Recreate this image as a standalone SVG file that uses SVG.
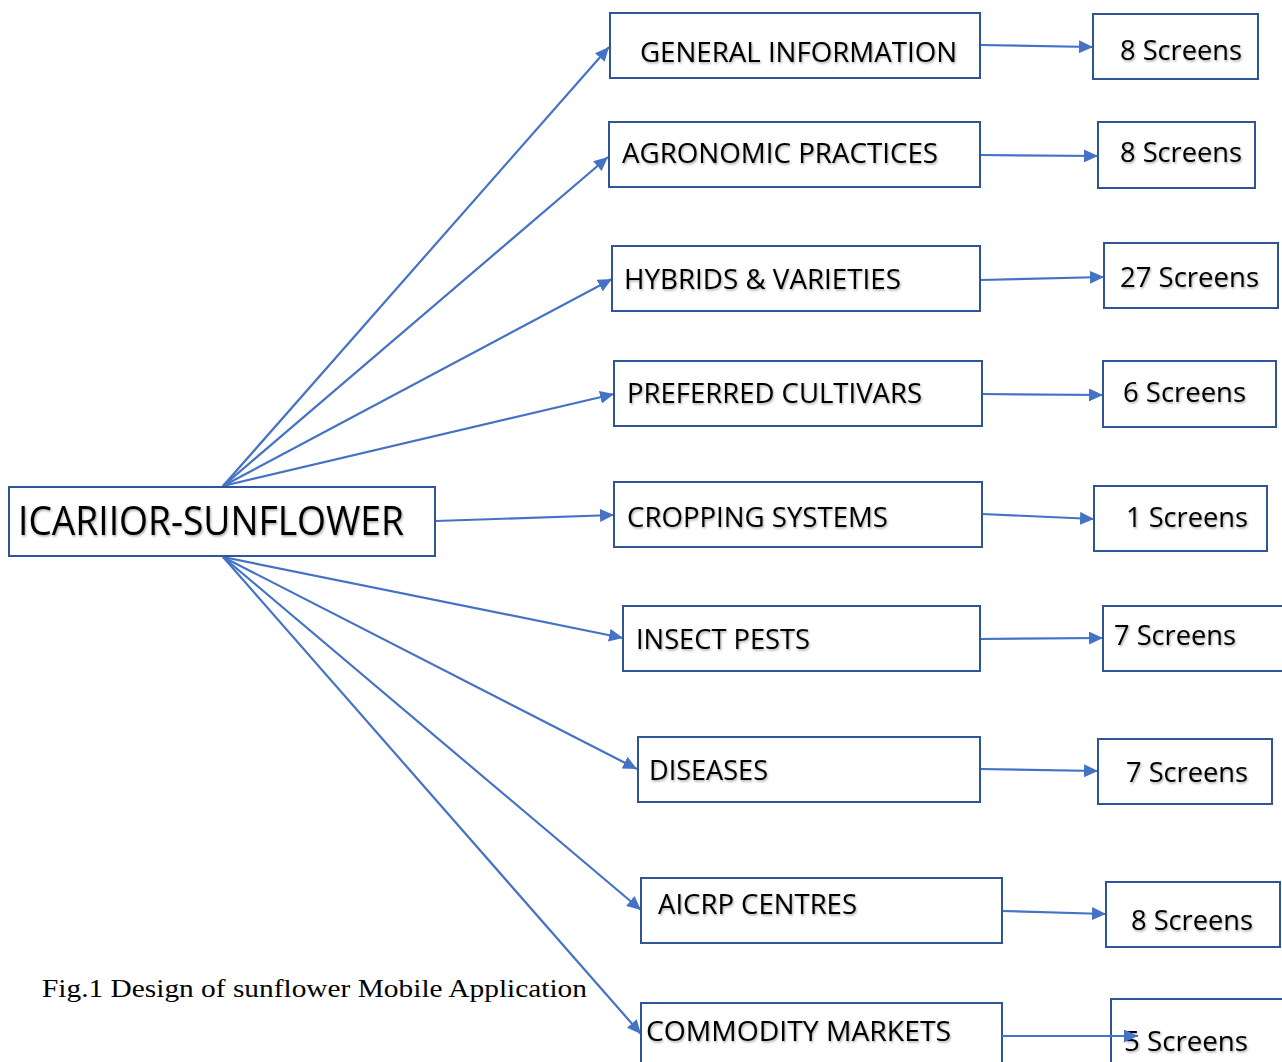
<svg xmlns="http://www.w3.org/2000/svg" width="1282" height="1062" viewBox="0 0 1282 1062">
<defs>
<style>
.box{fill:#fff;stroke:#2F5597;stroke-width:2}
.t{font-family:"Open Sans","Liberation Sans",sans-serif;font-size:28px;fill:#000;filter:url(#sh)}
.big{font-size:41px}
.c{stroke:#4472C4;stroke-width:2.2;fill:none;marker-end:url(#ah)}
.cap{font-family:"Liberation Serif","Times New Roman",serif;font-size:26px;fill:#000}
</style>
<marker id="ah" viewBox="0 0 14 13" refX="14" refY="6.5" markerWidth="14" markerHeight="13" markerUnits="userSpaceOnUse" orient="auto">
<path d="M0,0L14,6.5L0,13Z" fill="#4472C4"/>
</marker>
<filter id="sh" x="-5%" y="-20%" width="110%" height="140%">
<feDropShadow dx="1" dy="1.5" stdDeviation="0.8" flood-color="#000" flood-opacity="0.35"/>
</filter>
</defs>
<rect width="1282" height="1062" fill="#fff"/>
<g id="connectors">
<line class="c" x1="223" y1="486" x2="609" y2="47"/>
<line class="c" x1="223" y1="486" x2="608" y2="157"/>
<line class="c" x1="223" y1="486" x2="612" y2="279"/>
<line class="c" x1="223" y1="486" x2="614" y2="394"/>
<line class="c" x1="436" y1="521" x2="614" y2="515"/>
<line class="c" x1="223" y1="557" x2="623" y2="638"/>
<line class="c" x1="223" y1="557" x2="637" y2="769"/>
<line class="c" x1="223" y1="557" x2="641" y2="910"/>
<line class="c" x1="223" y1="557" x2="641" y2="1034"/>
<line class="c" x1="980" y1="45" x2="1093" y2="47"/>
<line class="c" x1="980" y1="155" x2="1098" y2="156"/>
<line class="c" x1="980" y1="280" x2="1104" y2="277"/>
<line class="c" x1="982" y1="394" x2="1103" y2="395"/>
<line class="c" x1="982" y1="514" x2="1094" y2="519"/>
<line class="c" x1="980" y1="639" x2="1103" y2="638"/>
<line class="c" x1="980" y1="769" x2="1098" y2="771"/>
<line class="c" x1="1002" y1="911" x2="1106" y2="914"/>
</g>
<g id="main"><rect class="box" x="9" y="487" width="426" height="69"/><text class="t big" x="18" y="535" textLength="386" lengthAdjust="spacingAndGlyphs">ICARIIOR-SUNFLOWER</text></g>
<g id="n1"><rect class="box" x="610" y="13" width="370" height="65"/><text class="t" x="640" y="62" textLength="317" lengthAdjust="spacingAndGlyphs">GENERAL INFORMATION</text></g>
<g id="n2"><rect class="box" x="609" y="122" width="371" height="65"/><text class="t" x="622" y="163" textLength="316" lengthAdjust="spacingAndGlyphs">AGRONOMIC PRACTICES</text></g>
<g id="n3"><rect class="box" x="612" y="246" width="368" height="65"/><text class="t" x="624" y="289" textLength="277" lengthAdjust="spacingAndGlyphs">HYBRIDS &amp; VARIETIES</text></g>
<g id="n4"><rect class="box" x="614" y="361" width="368" height="65"/><text class="t" x="627" y="403" textLength="295" lengthAdjust="spacingAndGlyphs">PREFERRED CULTIVARS</text></g>
<g id="n5"><rect class="box" x="614" y="482" width="368" height="65"/><text class="t" x="627" y="527" textLength="261" lengthAdjust="spacingAndGlyphs">CROPPING SYSTEMS</text></g>
<g id="n6"><rect class="box" x="623" y="606" width="357" height="65"/><text class="t" x="636" y="649" textLength="174" lengthAdjust="spacingAndGlyphs">INSECT PESTS</text></g>
<g id="n7"><rect class="box" x="638" y="737" width="342" height="65"/><text class="t" x="649" y="780" textLength="119" lengthAdjust="spacingAndGlyphs">DISEASES</text></g>
<g id="n8"><rect class="box" x="641" y="878" width="361" height="65"/><text class="t" x="658" y="914" textLength="199" lengthAdjust="spacingAndGlyphs">AICRP CENTRES</text></g>
<g id="n9"><rect class="box" x="641" y="1003" width="361" height="70"/><text class="t" x="646" y="1041" textLength="305" lengthAdjust="spacingAndGlyphs">COMMODITY MARKETS</text></g>
<g id="s1"><rect class="box" x="1093" y="14" width="165" height="65"/><text class="t" x="1120" y="60" textLength="122" lengthAdjust="spacingAndGlyphs">8 Screens</text></g>
<g id="s2"><rect class="box" x="1098" y="122" width="157" height="66"/><text class="t" x="1120" y="162" textLength="122" lengthAdjust="spacingAndGlyphs">8 Screens</text></g>
<g id="s3"><rect class="box" x="1104" y="243" width="174" height="65"/><text class="t" x="1120" y="287" textLength="139" lengthAdjust="spacingAndGlyphs">27 Screens</text></g>
<g id="s4"><rect class="box" x="1103" y="361" width="173" height="66"/><text class="t" x="1123" y="402" textLength="123" lengthAdjust="spacingAndGlyphs">6 Screens</text></g>
<g id="s5"><rect class="box" x="1094" y="486" width="173" height="65"/><text class="t" x="1126" y="527" textLength="122" lengthAdjust="spacingAndGlyphs">1 Screens</text></g>
<g id="s6"><rect class="box" x="1103" y="606" width="185" height="65"/><text class="t" x="1114" y="645" textLength="122" lengthAdjust="spacingAndGlyphs">7 Screens</text></g>
<g id="s7"><rect class="box" x="1098" y="739" width="174" height="65"/><text class="t" x="1126" y="782" textLength="122" lengthAdjust="spacingAndGlyphs">7 Screens</text></g>
<g id="s8"><rect class="box" x="1106" y="882" width="174" height="65"/><text class="t" x="1131" y="930" textLength="122" lengthAdjust="spacingAndGlyphs">8 Screens</text></g>
<g id="s9"><rect class="box" x="1111" y="999" width="180" height="75"/><text class="t" x="1124" y="1051" textLength="124" lengthAdjust="spacingAndGlyphs">5 Screens</text></g>
<g id="connectors-top"><line class="c" x1="1002" y1="1036" x2="1138" y2="1036"/></g>
<text class="cap" x="42" y="997" textLength="545" lengthAdjust="spacingAndGlyphs">Fig.1 Design of sunflower Mobile Application</text>
</svg>
